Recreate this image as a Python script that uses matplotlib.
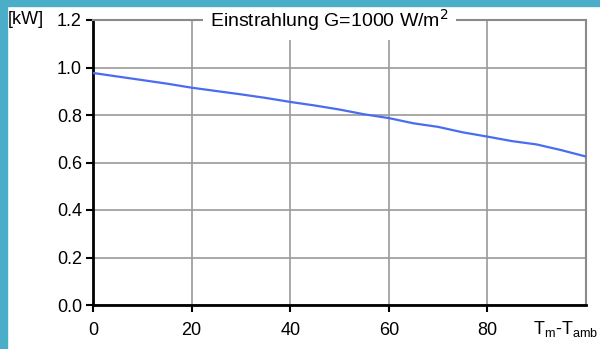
import matplotlib.pyplot as plt
from matplotlib.patches import Rectangle

# temperature difference Tm - Tamb and module power [kW]
dt = [0, 5, 10, 15, 20, 25, 30, 35, 40, 45, 50, 55, 60, 65, 70, 75, 80, 85, 90, 95, 100]
power = [0.977, 0.962, 0.947, 0.932, 0.915, 0.901, 0.887, 0.872, 0.855, 0.840, 0.823,
         0.803, 0.787, 0.765, 0.750, 0.727, 0.709, 0.690, 0.676, 0.652, 0.625]

x_ticks = [0, 20, 40, 60, 80]
y_ticks = [0.0, 0.2, 0.4, 0.6, 0.8, 1.0, 1.2]

plt.rcParams['font.family'] = 'Liberation Sans'
fs = 13

fig = plt.figure(figsize=(6, 3.49), dpi=100)
ax = fig.add_axes([93 / 600, 1 - 305 / 349, 493 / 600, 285 / 349])

# teal frame on left and top
teal = '#4aaec9'
fig.patches.append(Rectangle((0, 0), 7 / 600, 1, transform=fig.transFigure, color=teal, zorder=0))
fig.patches.append(Rectangle((0, 1 - 6 / 349), 1, 6 / 349, transform=fig.transFigure, color=teal, zorder=0))

ax.plot(dt, power, color='#4a6cf0', lw=1.6, zorder=3)

ax.set_xlim(0, 100)
ax.set_ylim(0, 1.2)
ax.set_xticks(x_ticks)
ax.set_yticks(y_ticks)
ax.set_yticklabels([f'{v:.1f}' for v in y_ticks])
ax.grid(True, color='#9a9a9a', lw=1.2)
ax.set_axisbelow(True)

ax.tick_params(axis='both', labelsize=fs, color='black', width=1.5, length=5, direction='out')
ax.tick_params(axis='x', pad=7)
ax.tick_params(axis='y', pad=3)

for s in ['left', 'bottom']:
    ax.spines[s].set_linewidth(2)
    ax.spines[s].set_color('black')
for s in ['top', 'right']:
    ax.spines[s].set_linewidth(1.5)
    ax.spines[s].set_color('#8a8a8a')

fig.text(8 / 600, 1 - 20 / 349, '[kW]', fontsize=fs, va='center', ha='left')
ax.text(0.48, 1.0, 'Einstrahlung G=1000 W/m$^2$', transform=ax.transAxes, fontsize=14,
        ha='center', va='center', zorder=5,
        bbox=dict(facecolor='white', edgecolor='none', pad=5))
fig.text(598 / 600, 1 - 329 / 349, r'T$_\mathregular{m}$-T$_\mathregular{amb}$', fontsize=fs,
         ha='right', va='center')

fig.savefig('out.png', dpi=100)
